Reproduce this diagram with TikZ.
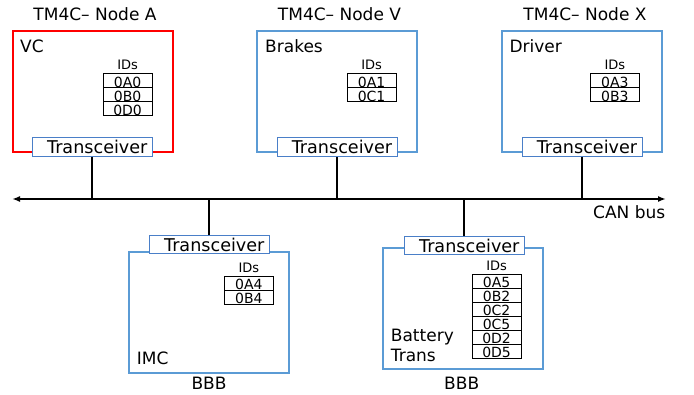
\documentclass[tikz,border=0pt]{standalone}
\usepackage{fontspec}
\setmainfont{DejaVu Sans}
\usetikzlibrary{arrows.meta}
\definecolor{boxblue}{HTML}{5B9BD5}
\definecolor{trxblue}{HTML}{4A7FC8}
\definecolor{boxred}{HTML}{FF0000}
\tikzset{
  big/.style={font=\fontsize{17}{20}\selectfont, inner sep=0pt},
  ecu/.style={draw=boxblue, line width=2pt, inner sep=0pt, anchor=north west,
              minimum width=160pt, minimum height=121pt},
  ecured/.style={ecu, draw=boxred},
  trx/.style={draw=trxblue, fill=white, line width=0.9pt, minimum height=19pt,
              text width=110pt, align=right, inner xsep=5pt, inner ysep=0pt,
              font=\fontsize{17.6}{17.6}\selectfont, anchor=north west},
  trxlow/.style={trx, minimum height=18pt},
  idcell/.style={draw=black, line width=0.8pt, minimum width=49pt, minimum height=14pt,
                 inner sep=0pt, anchor=north west, text height=12.8pt, text depth=0pt,
                 font=\fontsize{14}{14}\selectfont},
  idhead/.style={font=\fontsize{13}{13}\selectfont, inner sep=0pt, anchor=base},
  bus/.style={line width=2pt},
}
\newcommand{\idtab}[4]{%
  \foreach \v [count=\i from 0] in {#4} {
    \node[idcell] (#1-\i) at (#2, #3+14*\i) {\v};
  }
  \node[idhead] (#1-h) at ([yshift=3.4pt]#1-0.north) {IDs};
}
\begin{document}
\begin{tikzpicture}[x=1pt, y=-1pt]
\useasboundingbox (0,0) rectangle (694,395);

% ECU boxes
\node[ecured] (bA) at (12,30) {};
\node[ecu] (bV) at (255.7,30) {};
\node[ecu] (bX) at (500.5,30) {};
\node[ecu] (bI) at (127.7,250.7) {};
\node[ecu] (bB) at (381.7,247.5) {};

% titles
\node[big, anchor=base] (tiA) at (95,21) {TM4C– Node A};
\node[big, anchor=base] (tiV) at (339.5,21) {TM4C– Node V};
\node[big, anchor=base] (tiX) at (585,21) {TM4C– Node X};
\node[big, anchor=base] (bbI) at (209,390) {BBB};
\node[big, anchor=base] (bbB) at (461.7,390) {BBB};

% labels inside
\node[big, anchor=base west] (lA) at (20,53) {VC};
\node[big, anchor=base west] (lV) at (265,52.5) {Brakes};
\node[big, anchor=base west] (lX) at (509.3,53) {Driver};
\node[big, anchor=base west] (lI) at (136.7,365) {IMC};
\node[big, anchor=base west] (lB1) at (390.7,341.7) {Battery};
\node[big, anchor=base west] (lB2) at (390.7,361.7) {Trans};

% ID tables
\idtab{iA}{102.7}{73.3}{0A0,0B0,0D0}
\idtab{iV}{346.7}{73.3}{0A1,0C1}
\idtab{iX}{590}{73.3}{0A3,0B3}
\idtab{iI}{224}{275.7}{0A4,0B4}
\idtab{iB}{471.7}{274}{0A5,0B2,0C2,0C5,0D2,0D5}

% transceivers
\node[trx] (tA) at (32,137) {Transceiver};
\node[trx] (tV) at (276.7,137) {Transceiver};
\node[trx] (tX) at (521.7,137) {Transceiver};
\node[trxlow] (tI) at (149,235.5) {Transceiver};
\node[trxlow] (tB) at (404,236) {Transceiver};

% bus
\coordinate (busL) at (12,199);
\coordinate (busR) at (666,199);
\draw[bus, {Latex[length=8pt,width=6pt]}-{Latex[length=8pt,width=6pt]}] (busL) -- (busR);
\node[big, anchor=base west] (can) at (593,219) {CAN bus};

% drops
\draw[bus] (tA.south) -- (tA.south |- busL);
\draw[bus] (tV.south) -- (tV.south |- busL);
\draw[bus] (tX.south) -- (tX.south |- busL);
\draw[bus] (tI.north) -- (tI.north |- busL);
\draw[bus] (tB.north) -- (tB.north |- busL);
\end{tikzpicture}
\end{document}
